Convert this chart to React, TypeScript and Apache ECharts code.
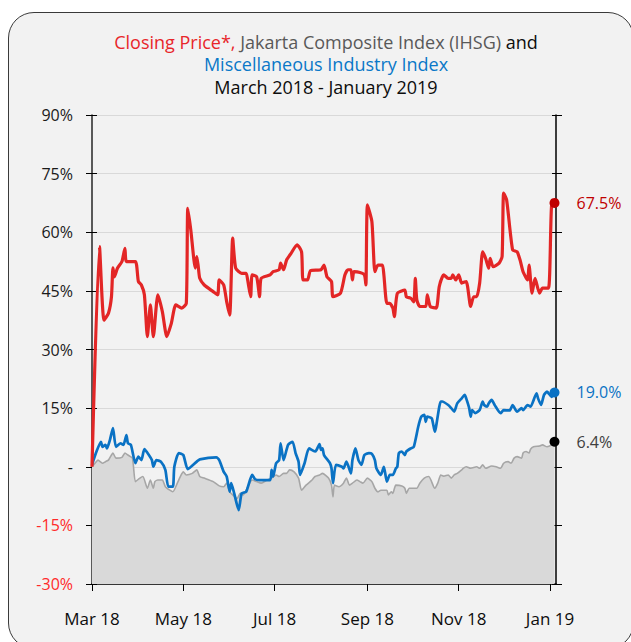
import React, { useEffect, useRef } from "react";
import * as echarts from "echarts";

const closingPrice: [string, number][] = [
  ["2018-03-01", 0], ["2018-03-06", 56.3], ["2018-03-09", 37.5], ["2018-03-12", 39.3], ["2018-03-14", 43.5],
  ["2018-03-15", 50.9], ["2018-03-16", 48.6], ["2018-03-18", 50.8], ["2018-03-21", 52.5], ["2018-03-23", 55.9],
  ["2018-03-24", 52.5], ["2018-03-30", 52.5], ["2018-04-01", 47.4], ["2018-04-03", 46.5], ["2018-04-05", 44],
  ["2018-04-07", 33.3], ["2018-04-09", 41.4], ["2018-04-11", 33.3], ["2018-04-14", 44], ["2018-04-17", 39.7],
  ["2018-04-20", 33.3], ["2018-04-23", 36.7], ["2018-04-26", 41.4], ["2018-04-30", 40.6], ["2018-05-03", 41.8],
  ["2018-05-04", 66.1], ["2018-05-06", 60.6], ["2018-05-09", 50.8], ["2018-05-10", 53.8], ["2018-05-11", 51.2],
  ["2018-05-12", 48.2], ["2018-05-15", 46.5], ["2018-05-21", 44.8], ["2018-05-24", 44], ["2018-05-25", 47.8],
  ["2018-05-28", 46.5], ["2018-05-30", 42.2], ["2018-06-01", 38.8], ["2018-06-03", 58.5], ["2018-06-05", 50.8],
  ["2018-06-09", 49.5], ["2018-06-12", 49.5], ["2018-06-13", 47.8], ["2018-06-15", 43.5], ["2018-06-16", 49.1],
  ["2018-06-19", 48.6], ["2018-06-21", 43.5], ["2018-06-22", 48.2], ["2018-06-28", 49.1], ["2018-06-30", 49.9],
  ["2018-07-04", 50.4], ["2018-07-05", 52.1], ["2018-07-07", 50.4], ["2018-07-09", 52.9], ["2018-07-12", 54.6],
  ["2018-07-16", 56.8], ["2018-07-19", 55], ["2018-07-20", 47.8], ["2018-07-23", 47.8], ["2018-07-25", 50.2],
  ["2018-08-01", 50.4], ["2018-08-03", 51.6], ["2018-08-05", 48.6], ["2018-08-08", 47.4], ["2018-08-09", 43.5],
  ["2018-08-14", 44.4], ["2018-08-17", 49.1], ["2018-08-19", 50.4], ["2018-08-21", 50.4], ["2018-08-22", 47.8],
  ["2018-08-23", 49.9], ["2018-08-27", 49.7], ["2018-08-30", 49.1], ["2018-08-31", 46.5], ["2018-09-01", 67],
  ["2018-09-04", 62.7], ["2018-09-06", 49.9], ["2018-09-08", 51.6], ["2018-09-11", 51.6], ["2018-09-12", 49.1],
  ["2018-09-14", 41.8], ["2018-09-16", 41.8], ["2018-09-18", 40.6], ["2018-09-19", 38.4], ["2018-09-21", 44.4],
  ["2018-09-26", 45.2], ["2018-09-27", 43.5], ["2018-09-30", 43.1], ["2018-10-02", 42.2], ["2018-10-03", 48.2],
  ["2018-10-04", 42.7], ["2018-10-06", 41], ["2018-10-10", 41], ["2018-10-11", 44], ["2018-10-13", 41],
  ["2018-10-17", 40.6], ["2018-10-19", 46.1], ["2018-10-22", 49.1], ["2018-10-25", 48.2], ["2018-10-27", 48.2],
  ["2018-10-28", 49.1], ["2018-10-30", 47.8], ["2018-11-01", 49.1], ["2018-11-03", 47], ["2018-11-06", 47.4],
  ["2018-11-09", 41], ["2018-11-11", 43.5], ["2018-11-13", 43.5], ["2018-11-15", 47], ["2018-11-17", 55],
  ["2018-11-19", 53.3], ["2018-11-21", 50.8], ["2018-11-22", 53.3], ["2018-11-24", 51.2], ["2018-11-28", 52.1],
  ["2018-11-30", 53.8], ["2018-12-01", 70], ["2018-12-03", 68.3], ["2018-12-07", 55.5], ["2018-12-10", 55],
  ["2018-12-12", 52.9], ["2018-12-14", 49.9], ["2018-12-17", 47.8], ["2018-12-18", 51.6], ["2018-12-20", 44.4],
  ["2018-12-22", 48.2], ["2018-12-25", 44.4], ["2018-12-27", 45.7], ["2018-12-31", 45.7], ["2019-01-02", 66.6],
  ["2019-01-04", 67.5],
];

const miscIndustry: [string, number][] = [
  ["2018-03-01", 0.5], ["2018-03-04", 3.9], ["2018-03-07", 6.4], ["2018-03-08", 5.1], ["2018-03-10", 5.6],
  ["2018-03-11", 4.7], ["2018-03-13", 6.9], ["2018-03-15", 9.9], ["2018-03-17", 5.1], ["2018-03-20", 6],
  ["2018-03-22", 5.6], ["2018-03-24", 8.1], ["2018-03-25", 6], ["2018-03-27", 5.6], ["2018-03-30", 0.9],
  ["2018-04-01", 2.6], ["2018-04-03", 1.7], ["2018-04-05", 4.5], ["2018-04-08", 3], ["2018-04-10", 1.7],
  ["2018-04-11", 0], ["2018-04-13", 1.7], ["2018-04-16", 1.3], ["2018-04-19", -0.8], ["2018-04-21", -5.1],
  ["2018-04-24", -5.1], ["2018-04-25", 0], ["2018-04-28", 3.5], ["2018-05-01", 3], ["2018-05-04", -0.6],
  ["2018-05-10", 1.3], ["2018-05-12", 1.9], ["2018-05-23", 2.4], ["2018-05-25", 1.7], ["2018-05-28", -1.3],
  ["2018-05-30", -2.5], ["2018-06-01", -6.4], ["2018-06-02", -4.2], ["2018-06-04", -6.8], ["2018-06-07", -11.1],
  ["2018-06-09", -6.8], ["2018-06-12", -6.4], ["2018-06-16", -2.1], ["2018-06-18", -3.2], ["2018-06-21", -3.4],
  ["2018-06-28", -3.4], ["2018-06-29", -0.8], ["2018-06-30", -2.5], ["2018-07-02", 0.9], ["2018-07-04", 1.7],
  ["2018-07-05", 6], ["2018-07-07", 1.7], ["2018-07-10", 5.6], ["2018-07-13", 6.4], ["2018-07-15", 3.5],
  ["2018-07-17", 1.3], ["2018-07-18", -2.1], ["2018-07-21", 0.9], ["2018-07-24", 4.7], ["2018-07-28", 3.9],
  ["2018-07-29", 4.3], ["2018-07-31", 5.8], ["2018-08-01", 4.3], ["2018-08-02", 4.7], ["2018-08-03", 3],
  ["2018-08-07", 0.9], ["2018-08-08", -0.4], ["2018-08-09", -4.2], ["2018-08-11", 0.5], ["2018-08-15", 0],
  ["2018-08-16", -0.4], ["2018-08-18", 1.3], ["2018-08-21", -1.7], ["2018-08-22", 1.7], ["2018-08-24", 4.7],
  ["2018-08-26", 1.7], ["2018-08-28", 0.5], ["2018-08-30", 3], ["2018-09-02", 3.5], ["2018-09-04", 3.3],
  ["2018-09-06", 1.7], ["2018-09-07", -0.4], ["2018-09-10", -2.1], ["2018-09-12", 0], ["2018-09-14", -3.8],
  ["2018-09-16", -2.1], ["2018-09-18", -2.1], ["2018-09-20", -0.4], ["2018-09-21", 0], ["2018-09-22", 3.5],
  ["2018-09-24", 3.9], ["2018-09-26", 3], ["2018-09-27", 3.9], ["2018-09-30", 4.7], ["2018-10-02", 5.1],
  ["2018-10-05", 10.3], ["2018-10-07", 12.8], ["2018-10-09", 13.3], ["2018-10-10", 11.5], ["2018-10-11", 12.8],
  ["2018-10-14", 12.4], ["2018-10-16", 9], ["2018-10-20", 16.7], ["2018-10-21", 16.7], ["2018-10-25", 15.8],
  ["2018-10-27", 15], ["2018-10-29", 14.1], ["2018-10-31", 16.2], ["2018-11-03", 17.5], ["2018-11-05", 18.4],
  ["2018-11-06", 17.5], ["2018-11-08", 15], ["2018-11-09", 12.8], ["2018-11-10", 14.5], ["2018-11-12", 13.7],
  ["2018-11-15", 14.5], ["2018-11-17", 16.7], ["2018-11-18", 15.8], ["2018-11-20", 15.4], ["2018-11-21", 16.2],
  ["2018-11-23", 17.1], ["2018-11-25", 15.8], ["2018-11-29", 13.7], ["2018-12-01", 14.5], ["2018-12-05", 14.4],
  ["2018-12-07", 15.8], ["2018-12-10", 14.1], ["2018-12-13", 15], ["2018-12-14", 14.5], ["2018-12-17", 15.8],
  ["2018-12-19", 15.4], ["2018-12-23", 18.8], ["2018-12-24", 17.5], ["2018-12-26", 15.8], ["2018-12-28", 18.4],
  ["2018-12-30", 19.2], ["2019-01-02", 17.9], ["2019-01-04", 19.0],
];

const ihsg: [string, number][] = [
  ["2018-03-01", 0], ["2018-03-03", 0.9], ["2018-03-05", 1.7], ["2018-03-08", 0.9], ["2018-03-10", 1.3],
  ["2018-03-12", 1.7], ["2018-03-14", 3], ["2018-03-15", 3.5], ["2018-03-17", 2.2], ["2018-03-21", 2.4],
  ["2018-03-23", 3.5], ["2018-03-25", 3], ["2018-03-28", 2.2], ["2018-03-30", -3.8], ["2018-04-02", -2.9],
  ["2018-04-04", -2.5], ["2018-04-07", -5.5], ["2018-04-09", -3.4], ["2018-04-11", -5.5], ["2018-04-12", -3.8],
  ["2018-04-14", -3.4], ["2018-04-17", -3.4], ["2018-04-19", -5.1], ["2018-04-22", -6], ["2018-04-24", -6.4],
  ["2018-04-27", -4.2], ["2018-04-29", -2.5], ["2018-05-01", -1.3], ["2018-05-03", -2.1], ["2018-05-07", -1.7],
  ["2018-05-10", -0.8], ["2018-05-12", -2.5], ["2018-05-15", -2.9], ["2018-05-21", -3.8], ["2018-05-25", -4.9],
  ["2018-05-28", -5.1], ["2018-05-30", -4.2], ["2018-06-01", -6.4], ["2018-06-03", -7.2], ["2018-06-06", -8.1],
  ["2018-06-08", -6.8], ["2018-06-10", -7.2], ["2018-06-12", -6], ["2018-06-16", -3.4], ["2018-06-19", -3.8],
  ["2018-06-22", -4.2], ["2018-06-26", -3.4], ["2018-06-29", -2.9], ["2018-07-02", -2.1], ["2018-07-04", -2.5],
  ["2018-07-07", -1.7], ["2018-07-09", -1.7], ["2018-07-11", -0.8], ["2018-07-14", -1.3], ["2018-07-17", -2.9],
  ["2018-07-19", -6], ["2018-07-22", -4.7], ["2018-07-26", -3.4], ["2018-07-28", -2.5], ["2018-07-31", -2.1],
  ["2018-08-02", -1.7], ["2018-08-06", -2.9], ["2018-08-08", -4.7], ["2018-08-09", -7.7], ["2018-08-10", -4.7],
  ["2018-08-13", -5.1], ["2018-08-16", -4.2], ["2018-08-18", -2.9], ["2018-08-20", -4.7], ["2018-08-22", -4.2],
  ["2018-08-25", -3.4], ["2018-08-27", -3.8], ["2018-08-29", -4.2], ["2018-09-01", -2.9], ["2018-09-04", -3.8],
  ["2018-09-06", -5.5], ["2018-09-08", -6.4], ["2018-09-10", -6], ["2018-09-14", -6], ["2018-09-15", -7.2],
  ["2018-09-17", -6.4], ["2018-09-18", -6.8], ["2018-09-20", -4.7], ["2018-09-24", -4.9], ["2018-09-26", -5.5],
  ["2018-09-27", -6.8], ["2018-09-29", -5.5], ["2018-10-04", -5.5], ["2018-10-06", -4.2], ["2018-10-09", -2.9],
  ["2018-10-12", -2.5], ["2018-10-16", -5.5], ["2018-10-18", -4.2], ["2018-10-20", -2.1], ["2018-10-22", -2.4],
  ["2018-10-25", -2.1], ["2018-10-27", -2.9], ["2018-10-29", -2.1], ["2018-10-31", -1.7], ["2018-11-03", -0.8],
  ["2018-11-04", -0.4], ["2018-11-06", 0], ["2018-11-09", -0.4], ["2018-11-13", 0], ["2018-11-15", -0.4],
  ["2018-11-17", 0.5], ["2018-11-19", -0.4], ["2018-11-23", 0.2], ["2018-11-26", 0], ["2018-11-29", -0.4],
  ["2018-12-01", 0.9], ["2018-12-04", 1.3], ["2018-12-06", 0.9], ["2018-12-08", 2.2], ["2018-12-10", 2.6],
  ["2018-12-13", 2.2], ["2018-12-14", 3.5], ["2018-12-16", 3.9], ["2018-12-18", 3.5], ["2018-12-19", 4.5],
  ["2018-12-21", 5.1], ["2018-12-25", 5.3], ["2018-12-27", 5.6], ["2018-12-30", 5.1], ["2019-01-02", 5.6],
  ["2019-01-04", 6.4],
];

const xTickDates = ["2018-03-01", "2018-05-01", "2018-07-01", "2018-09-01", "2018-11-01", "2019-01-01"];
const monthNames = ["Jan", "Feb", "Mar", "Apr", "May", "Jun", "Jul", "Aug", "Sep", "Oct", "Nov", "Dec"];
const xStart = "2018-03-01";
const xEnd = "2019-01-05";
const yMin = -30;
const yMax = 90;
const yStep = 15;

const FONT = "Open Sans";

function ts(s: string): number {
  const [y, m, d] = s.split("-").map(Number);
  return new Date(y, m - 1, d).getTime();
}

function toData(arr: [string, number][]) {
  return arr.map(([d, v]) => [ts(d), v]);
}

export default function App() {
  const ref = useRef<HTMLDivElement>(null);
  useEffect(() => {
    if (!ref.current) return;
    const chart = echarts.init(ref.current, null, { renderer: "svg" });
    const tickVals = xTickDates.map(ts);
    const xCommon = {
      type: "value" as const,
      min: ts(xStart),
      max: ts(xEnd),
      position: "bottom" as const,
      splitLine: { show: false },
    };
    const yCommon = {
      type: "value" as const,
      min: yMin,
      max: yMax,
      interval: yStep,
    };
    const last = (a: [string, number][]) => a[a.length - 1];
    const endPoint = (a: [string, number][], color: string, labelColor: string) => ({
      type: "scatter",
      symbolSize: 10,
      itemStyle: { color, opacity: 1 },
      z: 10,
      data: [[ts(last(a)[0]), last(a)[1]]],
      label: {
        show: true,
        position: "right",
        distance: 17,
        formatter: (p: any) => p.value[1].toFixed(1) + "%",
        color: labelColor,
        fontFamily: FONT,
        fontSize: 16,
      },
    });
    const titleFont = { fontSize: 18, fontFamily: FONT, lineHeight: 20 };
    chart.setOption({
      animation: false,
      backgroundColor: "transparent",
      textStyle: { fontFamily: FONT },
      graphic: [
        {
          type: "text",
          x: 326,
          y: 41.5,
          style: {
            text: "{r|Closing Price*,}{g| Jakarta Composite Index (IHSG)}{k| and}",
            align: "center",
            verticalAlign: "middle",
            ...titleFont,
            rich: {
              r: { fill: "#e8262a", ...titleFont },
              g: { fill: "#595959", ...titleFont },
              k: { fill: "#0d0d0d", ...titleFont },
            },
          },
        },
        {
          type: "text",
          x: 326,
          y: 64,
          style: {
            text: "Miscellaneous Industry Index",
            align: "center",
            verticalAlign: "middle",
            fill: "#0a78c8",
            ...titleFont,
          },
        },
        {
          type: "text",
          x: 326,
          y: 86.5,
          style: {
            text: "March 2018 - January 2019",
            align: "center",
            verticalAlign: "middle",
            fill: "#0d0d0d",
            ...titleFont,
          },
        },
      ],
      grid: { left: 92, right: 75, top: 115, bottom: 58, containLabel: false },
      xAxis: [
        {
          ...xCommon,
          axisLine: { show: true, onZero: false, lineStyle: { color: "#000", width: 1.5 } },
          axisTick: { show: true, length: 7, lineStyle: { color: "#000" }, customValues: tickVals },
          axisLabel: {
            show: true,
            margin: 26,
            color: "#0d0d0d",
            fontSize: 17,
            fontFamily: FONT,
            customValues: tickVals,
            formatter: (v: number) => {
              const d = new Date(v);
              return monthNames[d.getMonth()] + " " + String(d.getFullYear()).slice(2);
            },
          },
        },
        {
          ...xCommon,
          axisLine: { show: false, onZero: false },
          axisTick: { show: true, inside: true, length: 6, lineStyle: { color: "#000" }, customValues: tickVals },
          axisLabel: { show: false, customValues: tickVals },
        },
      ],
      yAxis: [
        {
          ...yCommon,
          position: "left",
          axisLine: { show: true, onZero: false, lineStyle: { color: "#262626", width: 1.5 } },
          axisTick: { show: true, length: 6, lineStyle: { color: "#000" } },
          splitLine: { show: true, lineStyle: { color: "#d9d9d9", width: 1 } },
          axisLabel: {
            margin: 19,
            fontSize: 16,
            fontFamily: FONT,
            color: "#1a1a1a",
            formatter: (v: number) => (v === 0 ? "-" : v < 0 ? `{neg|${v}%}` : `${v}%`),
            rich: { neg: { color: "#ff2a2a", fontSize: 16, fontFamily: FONT } },
          },
        },
        {
          ...yCommon,
          position: "left",
          axisLine: { show: false, onZero: false },
          axisTick: { show: true, inside: true, length: 5, lineStyle: { color: "#000" } },
          splitLine: { show: false },
          axisLabel: { show: false },
        },
        {
          ...yCommon,
          position: "right",
          axisLine: { show: true, onZero: false, lineStyle: { color: "#000", width: 1.5 } },
          axisTick: { show: true, length: 6, lineStyle: { color: "#000" } },
          splitLine: { show: false },
          axisLabel: { show: false },
        },
        {
          ...yCommon,
          position: "right",
          axisLine: { show: false, onZero: false },
          axisTick: { show: true, inside: true, length: 4, lineStyle: { color: "#000" } },
          splitLine: { show: false },
          axisLabel: { show: false },
        },
      ],
      series: [
        {
          name: "IHSG",
          type: "line",
          data: toData(ihsg),
          showSymbol: false,
          smooth: 0.2,
          lineStyle: { color: "#a6a6a6", width: 1.6 },
          itemStyle: { color: "#a6a6a6" },
          areaStyle: { color: "#d9d9d9", opacity: 1, origin: "start" },
          z: 2,
        },
        {
          name: "Miscellaneous Industry Index",
          type: "line",
          data: toData(miscIndustry),
          showSymbol: false,
          smooth: 0.2,
          lineStyle: { color: "#0a72c4", width: 2.7 },
          itemStyle: { color: "#0a72c4" },
          z: 3,
        },
        {
          name: "Closing Price",
          type: "line",
          data: toData(closingPrice),
          showSymbol: false,
          smooth: 0.2,
          lineStyle: { color: "#e32626", width: 3.2 },
          itemStyle: { color: "#e32626" },
          z: 4,
        },
        endPoint(closingPrice, "#c00000", "#c00000"),
        endPoint(miscIndustry, "#0a72c4", "#0a72c4"),
        endPoint(ihsg, "#000000", "#404040"),
      ],
    });
    return () => chart.dispose();
  }, []);

  return (
    <div style={{ position: "fixed", left: 0, top: 0, width: 631, height: 642, overflow: "hidden", background: "#fff" }}>
      <div
        style={{
          position: "absolute",
          left: 8,
          top: 12,
          width: 626,
          height: 637,
          boxSizing: "border-box",
          borderRadius: 26,
          border: "1px solid #3a3a3a",
          background: "#f2f2f2",
        }}
      />
      <div ref={ref} style={{ position: "absolute", left: 0, top: 0, width: 631, height: 642 }} />
    </div>
  );
}
